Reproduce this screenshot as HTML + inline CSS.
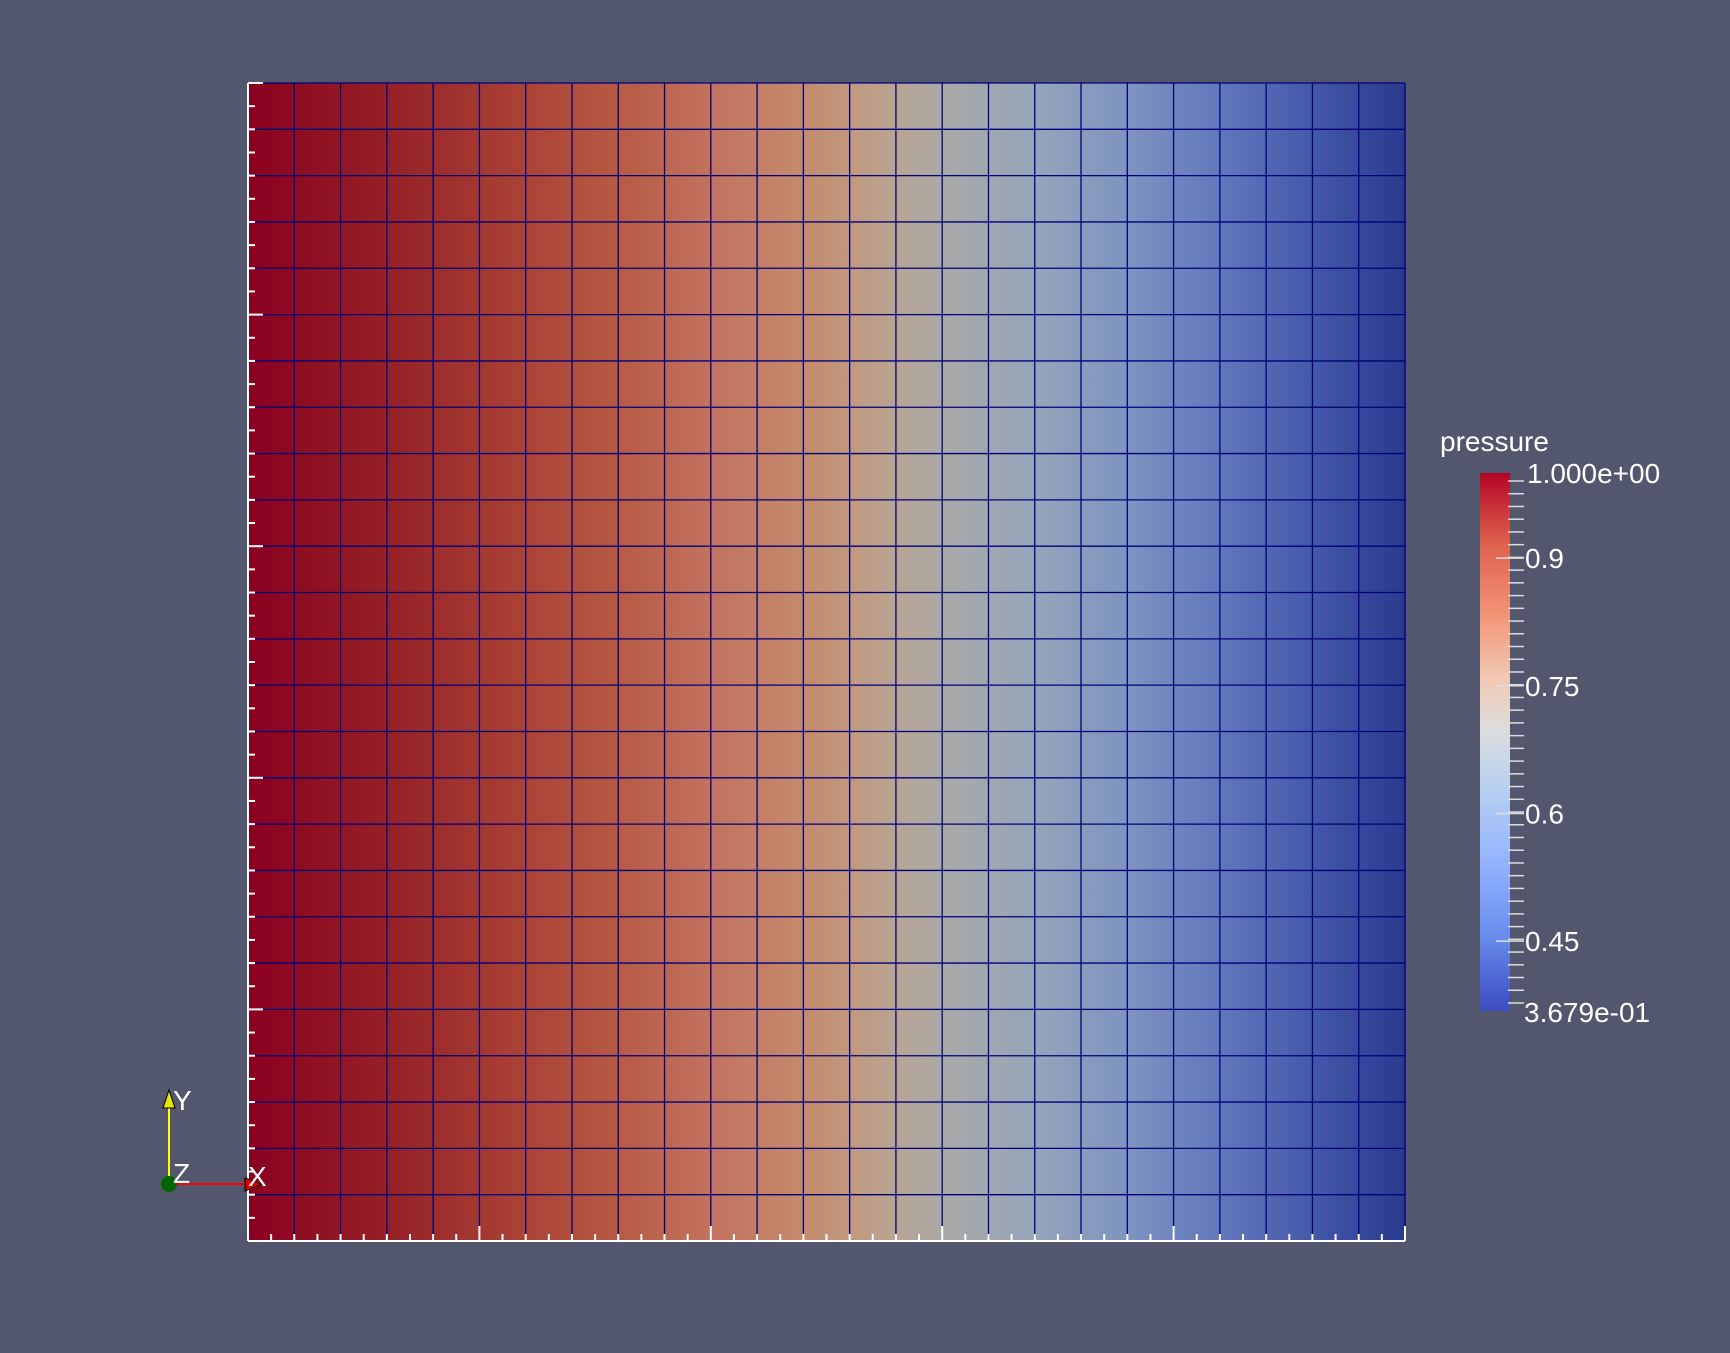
<!DOCTYPE html>
<html><head><meta charset="utf-8">
<style>
html,body{margin:0;padding:0;background:#52576e;width:1730px;height:1353px;overflow:hidden}
svg{display:block}
text{font-family:"Liberation Sans","DejaVu Sans",sans-serif;fill:#fff}
</style></head>
<body>
<svg id="chart" width="1730" height="1353">
  <rect width="1730" height="1353" fill="#52576e"/>
  <defs>
    <linearGradient id="meshGrad" x1="0" x2="1" y1="0" y2="0"></linearGradient>
    <linearGradient id="barGrad" x1="0" x2="0" y1="0" y2="1"></linearGradient>
  </defs>
  <g id="mesh"></g>
  <g id="axes"></g>
  <g id="legend"></g>
  <g id="triad">
    <line x1="169" y1="1184" x2="169" y2="1100" stroke="#ffff00" stroke-width="2"/>
    <polygon points="169,1090 163,1108 175,1108" fill="#e6e600" stroke="#000" stroke-width="1"/>
    <line x1="169" y1="1184" x2="246" y2="1184" stroke="#ff0000" stroke-width="2"/>
    <polygon points="262,1184 245,1178 245,1191" fill="#e00000" stroke="#000" stroke-width="1"/>
    <circle cx="169" cy="1184" r="8" fill="#006400"/>
    <text x="173" y="1110" font-size="28">Y</text>
    <text x="173" y="1183" font-size="28">Z</text>
    <text x="248" y="1186" font-size="28">X</text>
  </g>
</svg>
<script>
// node pressure values across x (26 nodes, 25 cells)
const nodeValues = [1.000,0.961,0.923,0.887,0.852,0.819,0.787,0.756,0.726,0.698,0.670,0.644,0.619,0.595,0.571,0.549,0.527,0.507,0.487,0.468,0.449,0.432,0.415,0.399,0.383,0.368];
// mesh display colors keyed by value (as rendered)
const meshColorValues = [1.000,0.887,0.787,0.726,0.670,0.619,0.595,0.571,0.549,0.507,0.468,0.432,0.399,0.368];
const meshColors = ['#8a0020','#952026','#aa4236','#b65a44','#c27260','#c48a6c','#c0987e','#b9a493','#aaa9a7','#95a5ba','#7e94c0','#6278bc','#4458aa','#2a3a8e'];
// colorbar
const barStops = [1.0,0.92,0.84,0.76,0.70,0.62,0.54,0.46,0.3679];
const barColors = ['#b40426','#dd5f4b','#f29072','#f2c8b1','#dcdddd','#b4cdf2','#92b2fd','#6b8fef','#3b4cc0'];
const majorTicks = [0.9,0.75,0.6,0.45];
const majorLabels = ['0.9','0.75','0.6','0.45'];
const rangeMin = 0.3679, rangeMax = 1.0;
const nCells = 25, nRows = 25;

const NS='http://www.w3.org/2000/svg';
function mk(tag,attrs,parent){const e=document.createElementNS(NS,tag);for(const k in attrs)e.setAttribute(k,attrs[k]);parent.appendChild(e);return e;}
const L=248,T=83,R=1405,B=1241,W=R-L,H=B-T;
const xScale=i=>L+i*W/nCells;
const yScale=j=>T+j*H/nRows;

function hex(c){return [1,3,5].map(i=>parseInt(c.substr(i,2),16));}
function colorFor(v){
  for(let i=0;i<meshColorValues.length-1;i++){
    const a=meshColorValues[i],b=meshColorValues[i+1];
    if(v<=a&&v>=b){const t=(a-v)/(a-b||1);const ca=hex(meshColors[i]),cb=hex(meshColors[i+1]);
      return 'rgb('+ca.map((x,k)=>Math.round(x+(cb[k]-x)*t)).join(',')+')';}
  }
  return v>meshColorValues[0]?meshColors[0]:meshColors[meshColors.length-1];
}
const mg=document.getElementById('meshGrad');
nodeValues.forEach((v,i)=>{mk('stop',{offset:(i/(nodeValues.length-1)),'stop-color':colorFor(v)},mg);});
const mesh=document.getElementById('mesh');
const field=mk('rect',{x:L,y:T,width:W,height:H,fill:'url(#meshGrad)'},mesh);


for(let i=1;i<nCells;i++){
  const ln=mk('line',{x1:xScale(i),x2:xScale(i),y1:T,y2:B,stroke:'#00007a','stroke-width':1.3},mesh);
  
  
}
for(let j=0;j<=nRows;j++){
  const ln=mk('line',{x1:L,x2:R,y1:yScale(j),y2:yScale(j),stroke:'#00007a','stroke-width':1.3},mesh);
  
  
}
mk('line',{x1:R,x2:R,y1:T,y2:B,stroke:'#00007a','stroke-width':1.3},mesh);
// axes ticks
const ax=document.getElementById('axes');
mk('line',{x1:L,x2:L,y1:T,y2:B,stroke:'#fff','stroke-width':2},ax);
mk('line',{x1:L,x2:R,y1:B,y2:B,stroke:'#fff','stroke-width':2},ax);
for(let k=0;k<=nRows*2;k++){
  const y=T+k*H/(nRows*2);const len=(k%10===0)?15:7;
  mk('line',{x1:L,x2:L+len,y1:y,y2:y,stroke:'#fff','stroke-width':2},ax);
}
for(let k=0;k<=nCells*2;k++){
  const x=L+k*W/(nCells*2);const len=(k%10===0)?15:7;
  mk('line',{x1:x,x2:x,y1:B,y2:B-len,stroke:'#fff','stroke-width':2},ax);
}
// legend
const lg=document.getElementById('legend');
const bx=1480,bw=30,bt=473,bb=1011,tt=473,tb=1011;
const bg=document.getElementById('barGrad');
barStops.forEach((v,i)=>{mk('stop',{offset:(rangeMax-v)/(rangeMax-rangeMin),'stop-color':barColors[i]},bg);});
const bar=mk('rect',{x:bx,y:bt,width:bw,height:bb-bt,fill:'url(#barGrad)'},lg);


const vy=v=>tt+(rangeMax-v)/(rangeMax-rangeMin)*(tb-tt);
for(let k=1;k<=40;k++){const y=481+k*(1003-481)/41;mk('line',{x1:1508,x2:1524,y1:y,y2:y,stroke:'#ddd','stroke-width':1.5},lg);}
mk('line',{x1:1508,x2:1524,y1:481,y2:481,stroke:'#ddd','stroke-width':1.5},lg);
mk('line',{x1:1508,x2:1524,y1:1003,y2:1003,stroke:'#ddd','stroke-width':1.5},lg);
majorTicks.forEach((v,i)=>{
  const y=vy(v);
  mk('line',{x1:1496,x2:1524,y1:y,y2:y,stroke:'#ddd','stroke-width':1.5},lg);
  const t=mk('text',{x:1525,y:y+10,'font-size':28},lg);t.textContent=majorLabels[i];
  
  
});
const t1=mk('text',{x:1527,y:483,'font-size':28},lg);t1.textContent='1.000e+00';


const t2=mk('text',{x:1524,y:1022,'font-size':28},lg);t2.textContent='3.679e-01';


const tt3=mk('text',{x:1440,y:451,'font-size':28},lg);tt3.textContent='pressure';


</script>
</body></html>
